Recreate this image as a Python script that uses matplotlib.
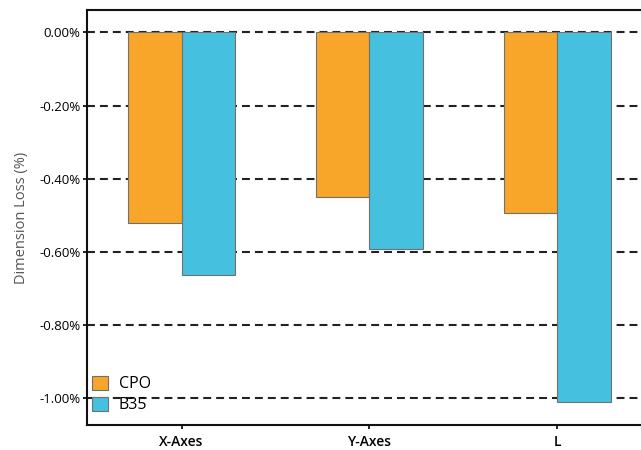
import numpy as np
import matplotlib.pyplot as plt
from matplotlib.ticker import FuncFormatter

plt.rcParams['font.family'] = ['Open Sans', 'DejaVu Sans']

categories = ['X-Axes', 'Y-Axes', 'L']
cpo = [-0.522, -0.451, -0.495]
b35 = [-0.663, -0.593, -1.013]
yticks = [0.0, -0.2, -0.4, -0.6, -0.8, -1.0]

fig = plt.figure(figsize=(6.41, 4.5), dpi=100)
ax = fig.add_axes([0.136, 0.0556, 0.88, 0.9222])

x = np.arange(len(categories))
w = 0.285
ax.bar(x - w / 2, cpo, w, color='#F7A629', edgecolor='#707070', linewidth=0.8, label='CPO', zorder=3)
ax.bar(x + w / 2, b35, w, color='#45C1DF', edgecolor='#707070', linewidth=0.8, label='B35', zorder=3)

for t in yticks:
    ax.axhline(t, color='#222222', lw=1.5, linestyle=(0, (3.8, 2.4)), zorder=1)

ax.set_xlim(-0.502, 2.5)
ax.set_ylim(-1.075, 0.0616)
ax.set_xticks(x)
ax.set_xticklabels(categories, fontsize=10, fontweight='semibold')
ax.set_yticks(yticks)
ax.yaxis.set_major_formatter(FuncFormatter(lambda v, p: '%.2f%%' % v))
ax.tick_params(axis='y', labelsize=9.5, length=3, width=1.2, pad=2)
ax.tick_params(axis='x', length=3, width=1.2, pad=4)
ax.set_ylabel('Dimension Loss (%)', fontsize=10.5, color='#555555', labelpad=7)

for s in ['left', 'bottom', 'top']:
    ax.spines[s].set_linewidth(1.5)
    ax.spines[s].set_color('#111111')
ax.spines['right'].set_visible(False)

leg = ax.legend(loc='lower left', bbox_to_anchor=(0.009, 0.028), frameon=False, fontsize=11.5,
                handlelength=1.0, handleheight=0.95, handletextpad=0.65, labelspacing=0.3,
                borderpad=0, borderaxespad=0)
for h in leg.legend_handles:
    h.set_edgecolor('#707070')

plt.savefig('out.png', dpi=100)
